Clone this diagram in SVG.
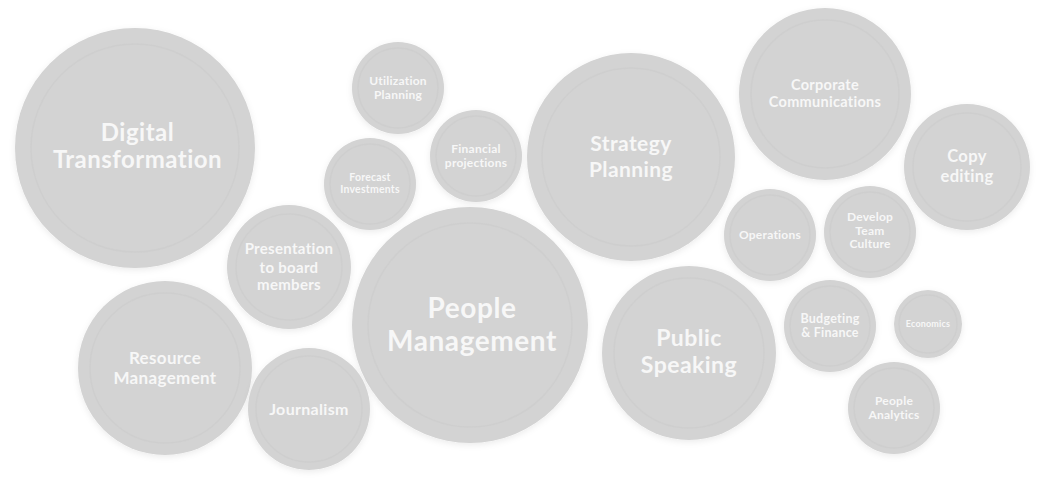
<svg xmlns="http://www.w3.org/2000/svg" width="1037" height="480" viewBox="0 0 1037 480">
<defs>
<filter id="sh" x="-20%" y="-20%" width="140%" height="140%">
<feDropShadow dx="0" dy="2" stdDeviation="3" flood-color="#000" flood-opacity="0.08"/>
</filter>
</defs>
<style>
.b{fill:#d3d3d3;filter:url(#sh)}
.r{fill:none;stroke:#cbcbcb;stroke-width:1.5;opacity:0.6}
text{font-family:Lato,"Open Sans","Liberation Sans",sans-serif;font-weight:700;fill:#f7f7f7;text-anchor:middle;letter-spacing:0.02em}
</style>
<rect width="1037" height="480" fill="#fff"/>
<g id="connectors"></g>
<g id="n-digital"><circle class="b" cx="135" cy="148" r="120"/><circle class="r" cx="135" cy="148" r="104"/><text x="137.5" y="140.5" font-size="24">Digital</text><text x="137.5" y="168" font-size="24">Transformation</text></g>
<g id="n-utilization"><circle class="b" cx="398" cy="88" r="46"/><circle class="r" cx="398" cy="88" r="40"/><text x="398" y="85" font-size="12">Utilization</text><text x="398" y="99" font-size="12">Planning</text></g>
<g id="n-financial"><circle class="b" cx="476" cy="156" r="46"/><circle class="r" cx="476" cy="156" r="40"/><text x="476" y="153" font-size="12">Financial</text><text x="476" y="167" font-size="12">projections</text></g>
<g id="n-forecast"><circle class="b" cx="370" cy="184" r="46"/><circle class="r" cx="370" cy="184" r="40"/><text x="370" y="181" font-size="10.5">Forecast</text><text x="370" y="193" font-size="10.5">Investments</text></g>
<g id="n-strategy"><circle class="b" cx="631" cy="157" r="104"/><circle class="r" cx="631" cy="157" r="89"/><text x="631" y="151" font-size="21">Strategy</text><text x="631" y="177" font-size="21">Planning</text></g>
<g id="n-corporate"><circle class="b" cx="825" cy="94" r="86"/><circle class="r" cx="825" cy="94" r="74"/><text x="825" y="90" font-size="14.5">Corporate</text><text x="825" y="107" font-size="14.5">Communications</text></g>
<g id="n-copy"><circle class="b" cx="967" cy="167" r="63"/><circle class="r" cx="967" cy="167" r="54"/><text x="967" y="162" font-size="16.5">Copy</text><text x="967" y="182" font-size="16.5">editing</text></g>
<g id="n-operations"><circle class="b" cx="770" cy="235" r="46"/><circle class="r" cx="770" cy="235" r="40"/><text x="770" y="239" font-size="12">Operations</text></g>
<g id="n-develop"><circle class="b" cx="870" cy="232" r="46"/><circle class="r" cx="870" cy="232" r="40"/><text x="870" y="221" font-size="12">Develop</text><text x="870" y="235" font-size="12">Team</text><text x="870" y="248" font-size="12">Culture</text></g>
<g id="n-budgeting"><circle class="b" cx="830" cy="326" r="46"/><circle class="r" cx="830" cy="326" r="40"/><text x="830" y="323" font-size="12.5">Budgeting</text><text x="830" y="337" font-size="12.5">&amp; Finance</text></g>
<g id="n-economics"><circle class="b" cx="928" cy="324" r="34"/><circle class="r" cx="928" cy="324" r="29"/><text x="928" y="327" font-size="9">Economics</text></g>
<g id="n-analytics"><circle class="b" cx="894" cy="408" r="46"/><circle class="r" cx="894" cy="408" r="40"/><text x="894" y="405" font-size="12">People</text><text x="894" y="419" font-size="12">Analytics</text></g>
<g id="n-public"><circle class="b" cx="689" cy="353" r="87"/><circle class="r" cx="689" cy="353" r="75"/><text x="689" y="346" font-size="23">Public</text><text x="689" y="373" font-size="23">Speaking</text></g>
<g id="n-people"><circle class="b" cx="470" cy="325" r="118"/><circle class="r" cx="470" cy="325" r="102"/><text x="472" y="318" font-size="28">People</text><text x="472" y="351" font-size="28">Management</text></g>
<g id="n-presentation"><circle class="b" cx="289" cy="267" r="62"/><circle class="r" cx="289" cy="267" r="53"/><text x="289" y="254" font-size="15">Presentation</text><text x="289" y="272.5" font-size="15">to board</text><text x="289" y="290" font-size="15">members</text></g>
<g id="n-resource"><circle class="b" cx="165" cy="368" r="87"/><circle class="r" cx="165" cy="368" r="75"/><text x="165" y="364" font-size="17">Resource</text><text x="165" y="384" font-size="17">Management</text></g>
<g id="n-journalism"><circle class="b" cx="309" cy="409" r="61"/><circle class="r" cx="309" cy="409" r="53"/><text x="309" y="415" font-size="16">Journalism</text></g>
</svg>
